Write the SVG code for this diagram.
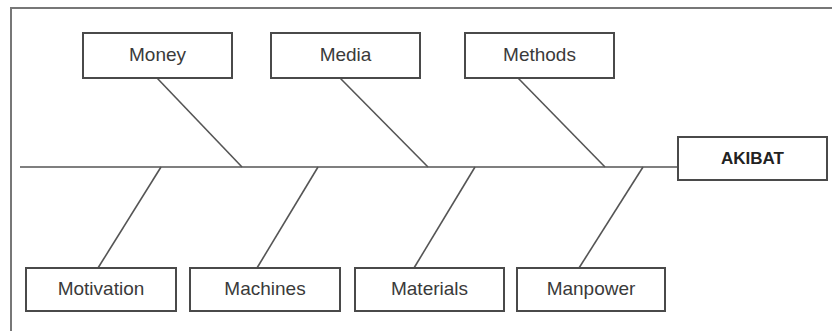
<svg xmlns="http://www.w3.org/2000/svg" width="832" height="331" viewBox="0 0 832 331">
<style>
.box{fill:#fff;stroke:#4a4a4a;stroke-width:2}
.lbl{font-family:"Liberation Sans",Arial,sans-serif;font-size:19px;fill:#3a3a3a;text-anchor:middle}
.bold{font-weight:bold;font-size:17px;fill:#222}
.ln{stroke:#555;stroke-width:1.6;fill:none}
</style>
<rect x="0" y="0" width="832" height="331" fill="#fff"/>
<rect x="11" y="8" width="840" height="340" fill="none" stroke="#777" stroke-width="2"/>
<g id="connectors">
<line class="ln" x1="20" y1="167" x2="678" y2="167"/>
<line class="ln" x1="157" y1="78" x2="242" y2="167"/>
<line class="ln" x1="340" y1="78" x2="428" y2="167"/>
<line class="ln" x1="518" y1="78" x2="605" y2="167"/>
<line class="ln" x1="161" y1="167" x2="98" y2="268"/>
<line class="ln" x1="318" y1="167" x2="257" y2="268"/>
<line class="ln" x1="475" y1="167" x2="414" y2="268"/>
<line class="ln" x1="643" y1="167" x2="579" y2="268"/>
</g>
<g id="money"><rect class="box" x="83" y="33" width="149" height="45"/><text class="lbl" x="157.5" y="61">Money</text></g>
<g id="media"><rect class="box" x="271" y="33" width="149" height="45"/><text class="lbl" x="345.5" y="61">Media</text></g>
<g id="methods"><rect class="box" x="465" y="33" width="149" height="45"/><text class="lbl" x="539.5" y="61">Methods</text></g>
<g id="akibat"><rect class="box" x="678" y="137" width="149" height="43"/><text class="lbl bold" x="752.5" y="164">AKIBAT</text></g>
<g id="motivation"><rect class="box" x="26" y="268" width="150" height="43"/><text class="lbl" x="101" y="295">Motivation</text></g>
<g id="machines"><rect class="box" x="190" y="268" width="150" height="43"/><text class="lbl" x="265" y="295">Machines</text></g>
<g id="materials"><rect class="box" x="355" y="268" width="149" height="43"/><text class="lbl" x="429.5" y="295">Materials</text></g>
<g id="manpower"><rect class="box" x="517" y="268" width="148" height="43"/><text class="lbl" x="591" y="295">Manpower</text></g>
</svg>
